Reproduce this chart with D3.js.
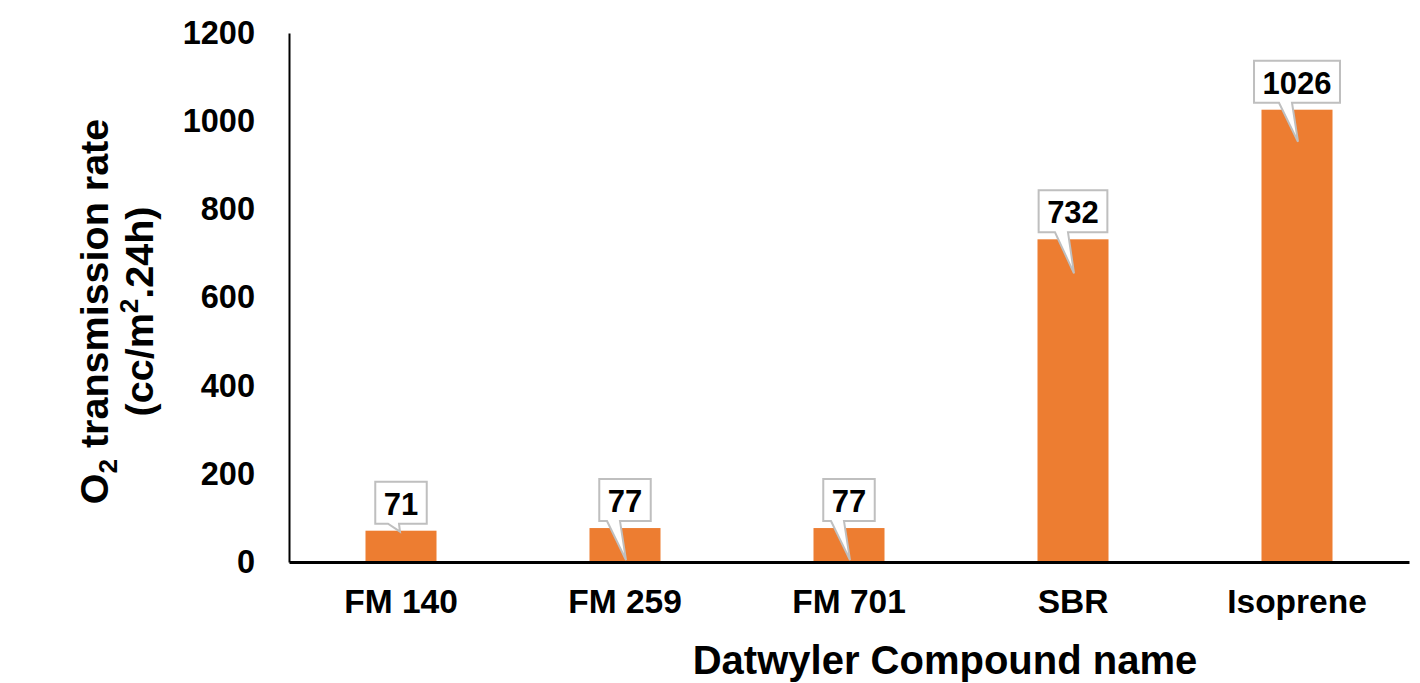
<!DOCTYPE html>
<html>
<head>
<meta charset="utf-8">
<script src="https://cdn.jsdelivr.net/npm/d3@7/dist/d3.min.js"></script>
<style>
  html, body { margin: 0; padding: 0; background: #fff; }
  svg { display: block; font-family: "Liberation Sans", Arial, sans-serif; font-weight: bold; }
</style>
</head>
<body>
<svg id="chart" width="1420" height="683"></svg>
<script>
// O2 transmission rate per compound
const categories = ["FM 140", "FM 259", "FM 701", "SBR", "Isoprene"];
const values = [71, 77, 77, 732, 1026];
const yTicks = [0, 200, 400, 600, 800, 1000, 1200];
// how far each callout pointer reaches below the bar top (px)
const tailDepth = [1, 32, 32, 34, 32];

(function draw() {
  const svg = d3.select("#chart");
  const plotLeft = 289, plotRight = 1409, plotTop = 33, plotBottom = 562;

  const x = d3.scaleBand().domain(categories).range([plotLeft, plotRight])
    .paddingInner(0.683).paddingOuter(0.3415);
  const y = d3.scaleLinear().domain([0, 1200]).range([plotBottom, plotTop]);

  // y axis: line and labels only
  const yAxis = svg.append("g").attr("transform", `translate(${plotLeft},0)`)
    .call(d3.axisLeft(y).tickValues(yTicks).tickSize(0).tickPadding(34).tickFormat(d3.format("d")));
  yAxis.select(".domain").attr("stroke", "#000").attr("stroke-width", 2);
  yAxis.selectAll("text").attr("font-size", 32.5).attr("font-family", "Liberation Sans, Arial, sans-serif")
    .attr("font-weight", "bold").attr("fill", "#000");

  // bars
  svg.append("g").selectAll("rect").data(values).join("rect")
    .attr("x", (d, i) => x(categories[i]))
    .attr("y", d => y(d))
    .attr("width", x.bandwidth())
    .attr("height", d => y(0) - y(d))
    .attr("fill", "#ED7D31");

  // x axis
  const xAxis = svg.append("g").attr("transform", `translate(0,${plotBottom})`)
    .call(d3.axisBottom(x).tickSize(0).tickPadding(27));
  xAxis.select(".domain").attr("stroke", "#000").attr("stroke-width", 3);
  xAxis.selectAll("text").attr("font-size", 33.5).attr("font-family", "Liberation Sans, Arial, sans-serif")
    .attr("font-weight", "bold").attr("fill", "#000");

  // value callouts
  const callouts = svg.append("g");
  values.forEach((v, i) => {
    const cx = x(categories[i]) + x.bandwidth() / 2;
    const barTop = y(v);
    const boxBottom = barTop - 7;
    const boxTop = boxBottom - 42;
    const g = callouts.append("g");
    const path = g.append("path");
    const t = g.append("text")
      .attr("x", cx).attr("y", boxBottom - 9)
      .attr("text-anchor", "middle")
      .attr("font-size", 31)
      .attr("fill", "#000")
      .text(v);
    const w = t.node().getComputedTextLength() + 17;
    const l = cx - w / 2, r = cx + w / 2;
    const short = tailDepth[i] < 5;
    const bl = short ? cx - 13 : cx - 18;
    const br = short ? cx - 2 : cx - 5;
    const tipX = short ? cx - 1 : cx + 1;
    const p = d3.path();
    p.moveTo(l, boxTop);
    p.lineTo(r, boxTop);
    p.lineTo(r, boxBottom);
    p.lineTo(br, boxBottom);
    p.lineTo(tipX, barTop + tailDepth[i]);
    p.lineTo(bl, boxBottom);
    p.lineTo(l, boxBottom);
    p.closePath();
    path.attr("d", p.toString()).attr("fill", "#fff").attr("stroke", "#BFBFBF").attr("stroke-width", 2)
      .attr("stroke-linejoin", "miter");
  });

  // axis titles
  svg.append("text")
    .attr("x", 945).attr("y", 674)
    .attr("text-anchor", "middle").attr("font-size", 40).attr("fill", "#000")
    .text("Datwyler Compound name");

  const yt = svg.append("text")
    .attr("transform", `translate(108,${(plotTop + plotBottom) / 2 + 14}) rotate(-90)`)
    .attr("text-anchor", "middle").attr("font-size", 39.5).attr("fill", "#000");
  const l1 = yt.append("tspan").attr("x", 0).attr("dy", 0);
  l1.append("tspan").text("O");
  l1.append("tspan").attr("font-size", 26).attr("dy", 9).text("2");
  l1.append("tspan").attr("dy", -9).text(" transmission rate");
  yt.append("tspan").attr("x", 0).attr("dy", 45).text("(cc/m");
  yt.append("tspan").attr("font-size", 26).attr("dy", -15).text("2");
  yt.append("tspan").attr("dy", 15).text(".24h)");
})();
</script>
</body>
</html>
